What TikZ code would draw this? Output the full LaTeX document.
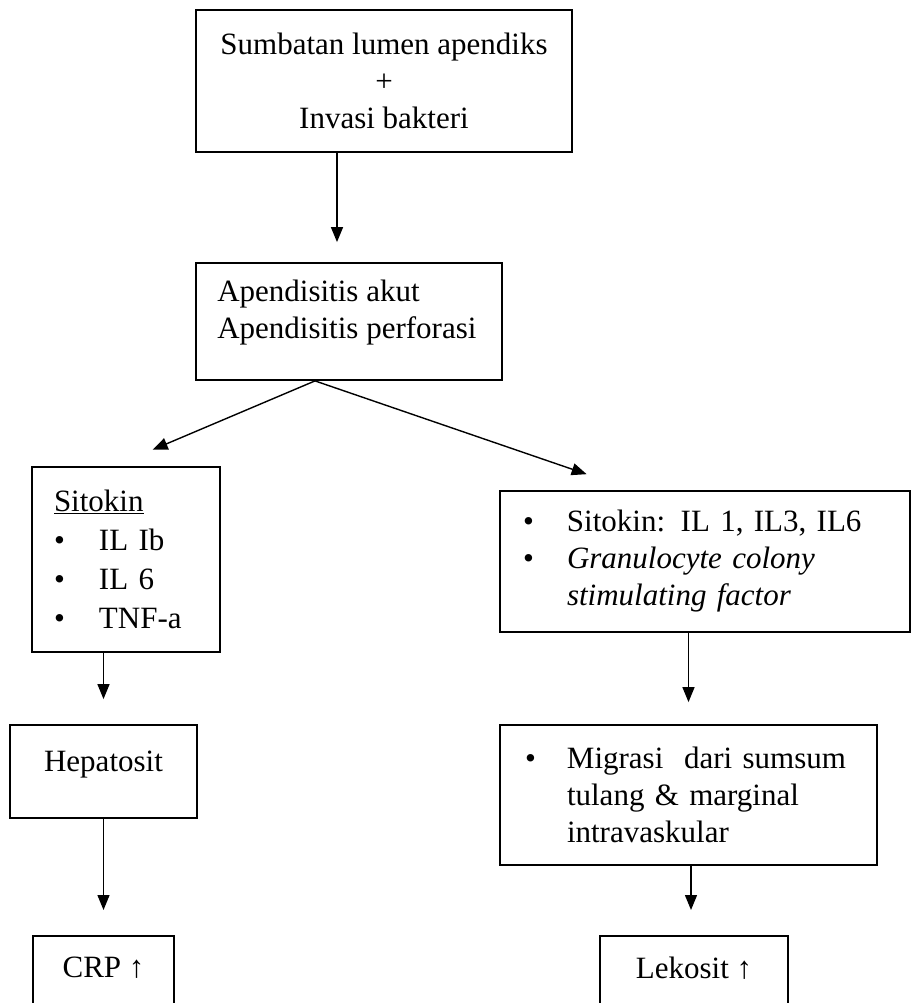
\documentclass[tikz,border=0pt]{standalone}
\usepackage{fontspec}
\setmainfont{Liberation Serif}
\usepackage{tikz}
\usetikzlibrary{arrows.meta,positioning}
\tikzset{box/.style={draw,line width=1.8pt,inner sep=0pt},
         txt/.style={inner sep=0pt,font=\fontsize{31}{37}\selectfont},
         arr/.style={line width=1.4pt,-{Triangle[length=15pt,width=12pt]}}}
\newcommand{\bul}[1]{\makebox[#1][l]{\textbullet}}

\begin{document}
\begin{tikzpicture}[x=1pt,y=-1pt]
            \useasboundingbox (0,0) rectangle (912,1003);
            \clip (0,0) rectangle (912,1003);
            % top of the chart
            \node[box,txt,align=center,minimum width=376pt,minimum height=142pt] (sumbatan) at (384,81)
                {Sumbatan lumen apendiks\\+\\Invasi bakteri};
            \node[box,minimum width=306pt,minimum height=117pt] (akut) at (349,321.5) {};
            \node[txt,align=left,below right=18pt and 22pt of akut.north west] (akuttxt)
                {Apendisitis akut\\Apendisitis perforasi};
            % left branch
            \node[box,txt,align=left,text width=144pt,inner xsep=22pt,minimum height=185pt,
                  font=\fontsize{31}{39}\selectfont] (sitokin) at (126,559.5)
                {\underline{Sitokin}\\\bul{45pt}IL Ib\\\bul{45pt}IL 6\\\bul{45pt}TNF-a};
            \node[box,txt,minimum width=187pt,minimum height=93pt,text height=20pt,text depth=20pt] (hepatosit) at (103.5,771.5) {Hepatosit};
            \node[box,minimum width=141pt,minimum height=100pt,anchor=north] (crp) at (103.5,935) {};
            \node[txt] (crptxt) at ([yshift=-33pt]crp.north) {CRP ↑};
            % right branch
            \node[box,txt,align=left,text width=364pt,inner xsep=23pt,minimum height=141pt] (faktor) at (705,561.5)
                {\bul{44pt}Sitokin: IL 1, IL3, IL6\\\bul{44pt}\textit{Granulocyte colony}\\\hspace*{44pt}\textit{stimulating factor}};
            \node[box,txt,align=left,text width=327pt,inner xsep=25pt,minimum height=140pt] (migrasi) at (688.5,795)
                {\bul{42pt}Migrasi~ dari sumsum\\\hspace*{42pt}tulang \& marginal\\\hspace*{42pt}intravaskular};
            \node[box,minimum width=188pt,minimum height=100pt,anchor=north] (lekosit) at (694,935) {};
            \node[txt] (lekosittxt) at ([yshift=-33pt]lekosit.north) {Lekosit ↑};
            % arrows
            \draw[arr,shorten >=20pt] (sumbatan.south -| 337,0) -- (akut.north -| 337,0);
            \draw[arr,shorten >=42pt] ([xshift=-34pt]akut.south) -- ([xshift=-12pt]sitokin.north);
            \draw[arr,shorten >=49pt] ([xshift=-34pt]akut.south) -- ([xshift=-72pt]faktor.north);
            \draw[arr,shorten >=25pt] (sitokin.south -| hepatosit.north) -- (hepatosit.north);
            \draw[arr,shorten >=25pt] (hepatosit.south) -- (crp.north);
            \draw[arr,shorten >=22pt] (faktor.south -| migrasi.north) -- (migrasi.north);
            \draw[arr,shorten >=25pt] (migrasi.south -| 691,0) -- (lekosit.north -| 691,0);
        \end{tikzpicture}
\end{document}
